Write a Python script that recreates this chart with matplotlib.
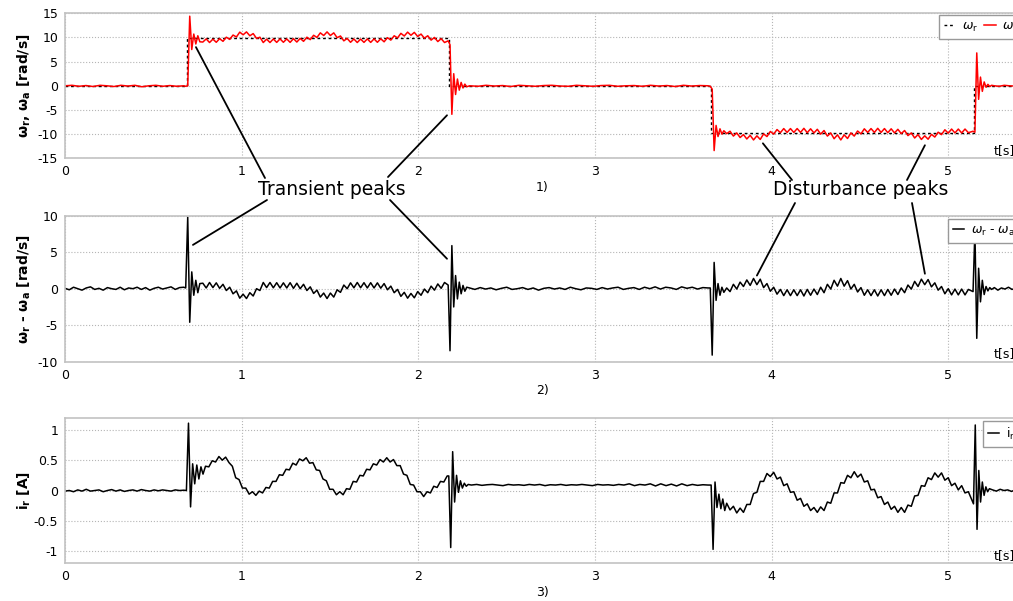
import numpy as np
import matplotlib
matplotlib.use("Agg")
import matplotlib.pyplot as plt
from matplotlib.ticker import FormatStrFormatter

plt.rcParams['axes.unicode_minus'] = False

# ---------------- data (time in s) ----------------
# reference speed w_r (step profile)
ref_t = [0.0, 0.689, 0.689, 2.174, 2.174, 3.657, 3.657, 5.145, 5.145, 5.4]
ref_w = [0.0, 0.0, 9.8, 9.8, 0.0, 0.0, -9.8, -9.8, 0.0, 0.0]

# time spans of the sampled blocks (flat, peak, run, peak, flat, peak, run, peak, flat)
w_spans = [(0.0, 0.672), (0.683, 0.763), (0.78, 2.148), (2.1685, 2.2735), (2.29, 3.64),
           (3.652, 3.729), (3.745, 5.113), (5.1395, 5.2445), (5.26, 5.40)]
i_spans = [(0.0, 0.672), (0.687, 0.781), (0.795, 2.163), (2.172, 2.282), (2.30, 3.64),
           (3.657, 3.734), (3.745, 5.113), (5.132, 5.232), (5.25, 5.40)]

# actual speed w_a [rad/s]
wa_flat_a = [0.0, 0.1, -0.1, 0.05, -0.15, 0.1, 0.0, -0.15, 0.1, -0.05, 0.1, -0.2, 0.0, 0.1,
             -0.1, 0.05, -0.1, 0.0]
wa_peak_1 = [-0.1, 0.0, 14.4, 7.5, 10.7, 8.65, 10.35, 9.1]
wa_run_1 = [9.05, 9.70, 8.95, 9.65, 9.00, 9.75, 9.20, 10.05, 9.60, 10.50,
            10.10, 11.10, 10.55, 11.15, 10.35, 10.80, 9.80, 10.05, 8.95, 9.65,
            8.95, 9.68, 8.98, 9.70, 9.00, 9.70, 8.98, 9.75, 9.05, 9.80,
            9.20, 10.05, 9.55, 10.45, 10.00, 10.95, 10.40, 11.15, 10.40, 10.95,
            9.95, 10.30, 9.30, 9.80, 9.00, 9.68, 8.95, 9.67, 8.98, 9.70,
            8.98, 9.70, 9.00, 9.73, 9.10, 9.95, 9.45, 10.35, 9.90, 10.85,
            10.30, 11.10, 10.45, 11.05, 10.20, 10.70, 9.85, 10.35, 9.45, 10.00,
            9.15, 9.75, 8.95]
wa_peak_2 = [9.3, 8.5, -5.9, 2.5, -1.8, 1.4, -0.9, 0.7, -0.45, 0.35, -0.2]
wa_flat_b = [0.0, -0.1, 0.1, -0.05, 0.05, -0.15, 0.1, 0.0, -0.1, 0.05, 0.1, -0.05, -0.1, 0.1,
             0.0, -0.1, 0.05, 0.1, -0.1, 0.0, 0.05, -0.1, 0.1, -0.05, 0.05, -0.15, 0.1, -0.05,
             0.05, 0.0]
wa_peak_3 = [-0.1, -0.7, -13.4, -8.2, -10.5, -8.9, -10.0, -9.3]
wa_run_2 = [-9.90, -9.40, -10.40, -9.75, -10.70, -10.10, -11.00, -10.25, -11.20, -10.35,
            -11.10, -9.95, -10.50, -9.45, -10.00, -9.05, -9.70, -8.85, -9.65, -8.85,
            -9.65, -8.85, -9.65, -8.80, -9.70, -8.90, -9.75, -9.00, -10.00, -9.25,
            -10.40, -9.75, -10.95, -10.15, -11.20, -10.15, -10.90, -9.75, -10.40, -9.35,
            -9.95, -8.90, -9.65, -8.85, -9.65, -8.80, -9.65, -8.85, -9.70, -8.90,
            -9.75, -9.00, -9.90, -9.25, -10.30, -9.75, -10.80, -10.10, -11.10, -10.35,
            -11.05, -10.05, -10.60, -9.60, -10.10, -9.10, -9.80, -8.95, -9.75, -8.95,
            -9.75, -8.95, -9.70]
wa_peak_4 = [-9.4, -9.6, 6.8, -2.8, 1.8, -1.15, 0.8, -0.3, 0.3, -0.15, 0.1]
wa_flat_c = [0.0, -0.1, 0.1, 0.0, -0.05, 0.05]

# speed error w_r - w_a [rad/s]
er_flat_a = [0.05, -0.15, 0.2, 0.0, -0.2, 0.1, 0.25, -0.1, 0.05, -0.2, 0.15, 0.0, -0.1, 0.2,
             -0.15, 0.1, 0.0, 0.2, -0.1, 0.15, -0.2, 0.05, 0.2, -0.05, 0.1, 0.25, -0.1, 0.15, 0.2]
er_peak_1 = [0.1, 9.8, -4.6, 2.3, -0.9, 1.15, -0.55, 0.7]
er_run_1 = [0.75, 0.10, 0.85, 0.15, 0.80, 0.05, 0.60, -0.25, 0.20, -0.70,
            -0.30, -1.30, -0.75, -1.35, -0.55, -1.00, 0.00, -0.25, 0.85, 0.15,
            0.85, 0.12, 0.82, 0.10, 0.80, 0.10, 0.82, 0.05, 0.75, 0.00,
            0.60, -0.25, 0.25, -0.65, -0.20, -1.15, -0.60, -1.35, -0.60, -1.15,
            -0.15, -0.50, 0.50, 0.00, 0.80, 0.12, 0.85, 0.13, 0.82, 0.10,
            0.82, 0.10, 0.80, 0.07, 0.70, -0.15, 0.35, -0.55, -0.10, -1.05,
            -0.50, -1.30, -0.65, -1.25, -0.40, -0.90, -0.05, -0.55, 0.35, -0.20,
            0.65, 0.05, 0.85]
er_peak_2 = [0.5, -8.5, 5.9, -2.5, 1.8, -1.4, 0.9, -0.7, 0.45, -0.35, 0.2]
er_flat_b = [0.1, -0.1, 0.15, -0.05, 0.1, -0.15, 0.05, 0.2, -0.1, 0.0, 0.15, -0.1, 0.1, -0.2,
             0.05, 0.15, -0.05, 0.1, -0.1, 0.2, 0.0, -0.15, 0.1, 0.05, -0.1, 0.15, -0.05, 0.1,
             0.2, -0.1, 0.05, 0.15, -0.1, 0.2, 0.0, 0.25, -0.05, 0.2, 0.1, -0.1, 0.25, 0.05,
             0.2, -0.05, 0.15, 0.1]
er_peak_3 = [0.1, -9.1, 3.6, -1.6, 0.7, -0.9, 0.2, -0.5]
er_run_2 = [0.10, -0.40, 0.60, -0.05, 0.90, 0.30, 1.20, 0.45, 1.40, 0.55,
            1.30, 0.15, 0.70, -0.35, 0.20, -0.75, -0.10, -0.95, -0.15, -0.95,
            -0.15, -0.95, -0.15, -1.00, -0.10, -0.90, -0.05, -0.80, 0.20, -0.55,
            0.60, -0.05, 1.15, 0.35, 1.40, 0.35, 1.10, -0.05, 0.60, -0.45,
            0.15, -0.90, -0.15, -0.95, -0.15, -1.00, -0.15, -0.95, -0.10, -0.90,
            -0.05, -0.80, 0.10, -0.55, 0.50, -0.05, 1.00, 0.30, 1.30, 0.55,
            1.25, 0.25, 0.80, -0.20, 0.30, -0.70, 0.00, -0.85, -0.05, -0.85,
            -0.05, -0.85, -0.10]
er_peak_4 = [-0.4, 8.0, -6.8, 2.8, -1.8, 1.15, -0.8, 0.3, -0.3, 0.15, -0.1]
er_flat_c = [0.15, -0.2, 0.1, -0.05, 0.2, -0.1, 0.05, 0.1]

# rotor current i_r [A]
ir_flat_a = [-0.01, 0.0, -0.02, 0.01, -0.01, 0.02, -0.01, 0.0, 0.01, -0.02, 0.0, 0.015, -0.01,
             0.01, -0.015, 0.0, 0.01, -0.01, 0.015, 0.0, -0.01, 0.01, -0.005, 0.01, 0.0, -0.01,
             0.01, 0.0, 0.005]
ir_peak_1 = [0.0, 1.11, -0.27, 0.44, 0.11, 0.42, 0.19, 0.39, 0.27]
ir_run_1 = [0.40, 0.39, 0.49, 0.47, 0.56, 0.50, 0.55, 0.46, 0.40, 0.21,
            0.18, 0.04, 0.04, -0.06, -0.02, -0.08, -0.01, -0.04, 0.05, 0.04,
            0.15, 0.15, 0.26, 0.25, 0.35, 0.34, 0.45, 0.42, 0.52, 0.49,
            0.54, 0.45, 0.46, 0.34, 0.33, 0.19, 0.16, 0.02, 0.02, -0.07,
            -0.02, -0.07, 0.03, 0.02, 0.15, 0.14, 0.25, 0.24, 0.35, 0.34,
            0.44, 0.42, 0.51, 0.47, 0.54, 0.47, 0.51, 0.41, 0.41, 0.27,
            0.25, 0.10, 0.09, -0.02, -0.02, -0.10, -0.02, -0.04, 0.07, 0.05,
            0.15, 0.14, 0.24]
ir_peak_2 = [0.24, -0.94, 0.64, -0.19, 0.25, -0.03, 0.16, 0.04, 0.12, 0.07, 0.10]
ir_flat_b = [0.09, 0.10, 0.085, 0.095, 0.10, 0.09, 0.08, 0.10, 0.09, 0.095, 0.085, 0.10, 0.09,
             0.10, 0.08, 0.095, 0.09, 0.10, 0.085, 0.095, 0.09, 0.10, 0.09, 0.08, 0.10, 0.09,
             0.095, 0.085, 0.10, 0.09, 0.11, 0.08, 0.10, 0.09, 0.11, 0.075, 0.11, 0.08, 0.105,
             0.075, 0.11, 0.08, 0.10, 0.085, 0.095, 0.09]
ir_peak_3 = [0.09, -0.97, 0.14, -0.28, -0.06, -0.30, -0.14, -0.33]
ir_run_2 = [-0.21, -0.32, -0.26, -0.37, -0.29, -0.36, -0.23, -0.23, -0.05, -0.03,
            0.15, 0.15, 0.28, 0.23, 0.30, 0.19, 0.22, 0.08, 0.11, -0.03,
            -0.02, -0.16, -0.13, -0.26, -0.22, -0.33, -0.28, -0.36, -0.27, -0.33,
            -0.19, -0.21, -0.04, -0.04, 0.13, 0.12, 0.25, 0.21, 0.31, 0.22,
            0.27, 0.14, 0.16, 0.01, 0.02, -0.12, -0.10, -0.23, -0.19, -0.31,
            -0.26, -0.36, -0.28, -0.36, -0.24, -0.26, -0.09, -0.08, 0.08, 0.07,
            0.21, 0.18, 0.29, 0.22, 0.29, 0.17, 0.21, 0.08, 0.12, 0.01,
            0.08, -0.04, -0.02]
ir_peak_4 = [-0.15, -0.22, 1.08, -0.64, 0.33, -0.19, 0.14, -0.08, 0.06, -0.02, 0.03]
ir_flat_c = [0.01, -0.01, 0.02, 0.0, 0.01, -0.015, 0.01, 0.0]


def stitch(spans, parts):
    # each block of samples is spread evenly over its time span
    t = np.concatenate([np.linspace(a, b, len(p)) for (a, b), p in zip(spans, parts)])
    y = np.concatenate([np.asarray(p, dtype=float) for p in parts])
    return t, y


t_wa, w_a = stitch(w_spans, [wa_flat_a, wa_peak_1, wa_run_1, wa_peak_2, wa_flat_b,
                             wa_peak_3, wa_run_2, wa_peak_4, wa_flat_c])
t_er, w_err = stitch(w_spans, [er_flat_a, er_peak_1, er_run_1, er_peak_2, er_flat_b,
                               er_peak_3, er_run_2, er_peak_4, er_flat_c])
t_ir, i_r = stitch(i_spans, [ir_flat_a, ir_peak_1, ir_run_1, ir_peak_2, ir_flat_b,
                             ir_peak_3, ir_run_2, ir_peak_4, ir_flat_c])

# ---------------- figure ----------------
fig = plt.figure(figsize=(10.13, 6.01), dpi=100)
left, width = 0.0642, 0.9418
ax1 = fig.add_axes([left, 0.7366, width, 0.2413])
ax2 = fig.add_axes([left, 0.3982, width, 0.2429])
ax3 = fig.add_axes([left, 0.0627, width, 0.2423])


def style(ax, ylim, yticks, ylabel, xlabel):
    ax.set_xlim(0, 5.4)
    ax.set_ylim(*ylim)
    ax.set_xticks(range(6))
    ax.set_yticks(yticks)
    ax.yaxis.set_major_formatter(FormatStrFormatter('%g'))
    ax.grid(True, color='#b5b5b5', linestyle=':', linewidth=0.8)
    ax.tick_params(length=0, labelsize=9, pad=5)
    for s in ax.spines.values():
        s.set_color('#c2c2c2')
        s.set_linewidth(1.2)
    ax.set_ylabel(ylabel, fontsize=10, fontweight='bold')
    ax.yaxis.set_label_coords(-0.034, 0.5)
    ax.set_xlabel(xlabel, fontsize=9, labelpad=2)
    ax.text(0.973, 0.012, 't[s]', transform=ax.transAxes, fontsize=9, ha='left', va='bottom')


legend_style = dict(loc='upper left', fontsize=9, handlelength=0.9, handletextpad=0.55,
                    fancybox=False, framealpha=1, edgecolor='#999999', borderaxespad=0)

# --- 1) reference vs actual speed ---
ax1.plot(ref_t, ref_w, color='black', linewidth=1.0, linestyle=(0, (2, 2)),
         label=r'$\omega_\mathrm{r}$')
ax1.plot(t_wa, w_a, color='red', linewidth=1.1, label=r'$\omega_\mathrm{a}$')
style(ax1, (-15, 15), [-15, -10, -5, 0, 5, 10, 15],
      'ω$_\\mathbf{r}$, ω$_\\mathbf{a}$ [rad/s]', '1)')
ax1.legend(bbox_to_anchor=(0.916, 0.99), ncol=2, columnspacing=0.5, **legend_style)

# --- 2) speed error ---
ax2.plot(t_er, w_err, color='black', linewidth=1.1,
         label=r'$\omega_\mathrm{r}$ - $\omega_\mathrm{a}$')
style(ax2, (-10, 10), [-10, -5, 0, 5, 10],
      'ω$_\\mathbf{r}$ - ω$_\\mathbf{a}$ [rad/s]', '2)')
ax2.legend(bbox_to_anchor=(0.925, 0.98), **legend_style)

# --- 3) rotor current ---
ax3.plot(t_ir, i_r, color='black', linewidth=1.1, label=r'i$_\mathrm{r}$')
style(ax3, (-1.2, 1.2), [-1, -0.5, 0, 0.5, 1], 'i$_\\mathbf{r}$ [A]', '3)')
ax3.legend(bbox_to_anchor=(0.962, 0.98), **legend_style)

# --- annotations ---
fig.text(332 / 1013, 1 - 190 / 601, 'Transient peaks', fontsize=13.5, ha='center', va='center')
fig.text(861 / 1013, 1 - 190 / 601, 'Disturbance peaks', fontsize=13.5, ha='center', va='center')

arrow = dict(arrowstyle='-', color='black', linewidth=1.3, shrinkA=0, shrinkB=0)
pointers = [
    (ax1, (0.741, 8.0), (265, 178)),
    (ax1, (2.162, -6.1), (388, 177)),
    (ax2, (0.724, 6.0), (267, 200)),
    (ax2, (2.162, 4.1), (390, 200)),
    (ax1, (3.95, -11.9), (792, 180)),
    (ax1, (4.867, -12.3), (907, 180)),
    (ax2, (3.916, 1.8), (795, 203)),
    (ax2, (4.867, 2.05), (912, 203)),
]
for ax, xy, (px, py) in pointers:
    ax.annotate('', xy=xy, xytext=(px / 1013, 1 - py / 601), textcoords='figure fraction',
                arrowprops=arrow, annotation_clip=False)

fig.savefig('out.png', dpi=100)
